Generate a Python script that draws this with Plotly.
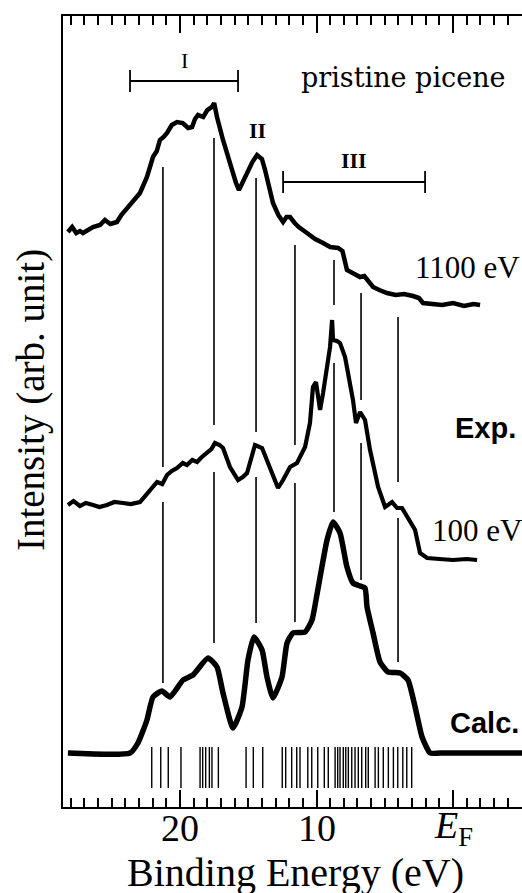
import plotly.graph_objects as go

# ---------------- data (binding energy in eV, intensity in arb. units) ----------------
e_1100 = [28.21, 27.9, 27.6, 27.33, 27.11, 26.7, 26.37, 25.86, 25.5, 25.1, 24.62, 24.3, 23.88,
          23.4, 22.93, 22.42, 21.98, 21.7, 21.47, 21.2, 20.95, 20.6, 20.22, 19.8, 19.4, 19.12,
          18.9, 18.68, 18.3, 18.0, 17.66, 17.5, 17.29, 16.85, 16.5, 16.19, 15.9, 15.68, 15.4,
          15.09, 14.7, 14.36, 14.0, 13.77, 13.5, 13.19, 12.8, 12.45, 12.2, 11.94, 11.6, 11.3,
          10.70, 10.1, 9.52, 9.0, 8.42, 8.1, 7.77, 7.3, 6.81, 6.5, 5.86, 5.4, 4.84, 4.2, 3.6,
          2.93, 2.5, 2.20, 1.5, 0.8, 0.0, -0.8, -1.5, -1.98]
i_1100 = [575, 580, 574, 576, 574, 578, 580, 582, 587, 583, 585, 592, 599,
          606, 614, 630, 650, 656, 667, 670, 674, 682, 685, 684, 679, 680,
          688, 692, 690, 697, 700, 704, 690, 667, 650, 637, 624, 617, 625,
          634, 645, 652, 648, 637, 620, 604, 592, 585, 590, 590, 584, 580,
          574, 568, 564, 560, 559, 556, 537, 533, 530, 531, 520, 517, 514, 512, 513,
          511, 509, 504, 503, 502, 504, 501, 503, 502]

e_100 = [28.21, 27.8, 27.33, 26.9, 26.37, 25.9, 25.35, 24.8, 24.18, 23.6, 22.93, 22.34,
         21.68, 21.3, 20.95, 20.6, 20.22, 19.8, 19.49, 19.1, 18.75, 18.4, 18.02, 17.7, 17.44,
         17.1, 16.85, 16.34, 15.75, 15.4, 15.09, 14.8, 14.51, 13.99, 13.41, 12.82, 12.45,
         12.09, 11.94, 11.43, 10.84, 10.48, 10.26, 10.04, 9.74, 9.52, 9.23, 9.01, 8.86, 8.79,
         8.5, 8.28, 7.91, 7.55, 7.33, 7.11, 6.81, 6.45, 6.08, 5.49, 4.98, 4.47, 4.10, 3.74,
         3.30, 2.78, 2.42, 1.90, 1.0, 0.0, -1.0, -1.76]
i_100 = [302, 306, 301, 304, 302, 300, 302, 305, 304, 303, 305, 314,
         325, 323, 332, 336, 339, 344, 342, 347, 345, 350, 355, 358, 364,
         362, 359, 340, 327, 330, 334, 350, 362, 359, 339, 319, 327,
         337, 340, 344, 360, 384, 420, 425, 397, 414, 440, 460, 487, 467,
         466, 464, 450, 424, 407, 384, 395, 387, 357, 320, 300, 305, 299, 299,
         289, 277, 254, 249, 248, 247, 248, 247]

e_calc = [28.21, 23.66, 23.08, 22.42, 21.98, 21.32, 20.73, 19.78, 19.05, 17.95, 17.29,
          16.85, 16.12, 15.46, 15.02, 14.58, 13.99, 13.63, 13.19, 12.53, 12.16, 11.72,
          10.84, 10.33, 10.0, 9.23, 8.79, 8.28, 7.77, 7.33, 6.81, 6.45, 6.30, 5.86, 5.35,
          4.76, 3.88, 3.30, 2.78, 2.27, 1.68, 0.95, -5.05]
i_calc = [54, 54, 64, 87, 110, 116, 110, 127, 132, 149, 140,
          114, 79, 100, 147, 170, 157, 130, 109, 130, 164, 174,
          175, 187, 210, 267, 285, 274, 240, 224, 221, 219, 200, 174, 145,
          135, 134, 127, 100, 70, 54, 54, 54]

# calculated eigenvalues (stick spectrum)
e_sticks = [22.07, 21.41, 20.86, 19.93, 18.53, 18.34, 18.12, 17.85, 17.66, 17.19, 15.16,
            14.63, 13.94, 12.51, 12.26, 11.82, 11.45, 11.21, 10.64, 10.35, 9.91, 9.43, 9.14,
            8.64, 8.45, 8.28, 8.04, 7.86, 7.67, 7.42, 7.18, 6.94, 6.69, 6.40, 6.21, 5.71,
            5.47, 5.11, 4.74, 4.37, 4.05, 3.68, 3.39, 3.03]
stick_lo, stick_hi = 19, 60

# guide lines connecting peaks: energy and (low, high) intensity segments
guide_e = [21.25, 17.51, 14.43, 11.58, 8.72, 6.74, 4.03]
guide_segs = [[(124, 305), (340, 640)],
              [(164, 335), (382, 669)],
              [(184, 330), (375, 629)],
              [(185, 324), (362, 562)],
              [(295, 444), (502, 547)],
              [(227, 364), (407, 514)],
              [(145, 289), (325, 490)]]

# region brackets: label, start, end, level
brackets = [("I", 23.66, 15.75, 726), ("III", 12.45, 2.05, 625)]
bracket_tick = 11

tick_vals = [20, 10, 0]
tick_text = ["20", "10", "<i>E</i><sub>F</sub>"]

# ---------------- figure ----------------
fig = go.Figure()
BLACK = "black"

# guide lines
gx, gy = [], []
for e, segs in zip(guide_e, guide_segs):
    for lo, hi in segs:
        gx += [e, e, None]
        gy += [lo, hi, None]
fig.add_trace(go.Scatter(x=gx, y=gy, mode="lines", line=dict(color=BLACK, width=1.6),
                         hoverinfo="skip"))

# sticks
sx, sy = [], []
for e in e_sticks:
    sx += [e, e, None]
    sy += [stick_lo, stick_hi, None]
fig.add_trace(go.Scatter(x=sx, y=sy, mode="lines", line=dict(color=BLACK, width=1.4),
                         hoverinfo="skip"))

# spectra
fig.add_trace(go.Scatter(x=e_1100, y=i_1100, mode="lines", line=dict(color=BLACK, width=4.5)))
fig.add_trace(go.Scatter(x=e_100, y=i_100, mode="lines", line=dict(color=BLACK, width=4.2)))
fig.add_trace(go.Scatter(x=e_calc, y=i_calc, mode="lines",
                         line=dict(color=BLACK, width=5.5, shape="spline", smoothing=0.5)))

# brackets
for lab, e0, e1, lev in brackets:
    fig.add_trace(go.Scatter(x=[e0, e1], y=[lev, lev], mode="lines",
                             line=dict(color=BLACK, width=1.8), hoverinfo="skip"))
    for e in (e0, e1):
        fig.add_trace(go.Scatter(x=[e, e], y=[lev - bracket_tick, lev + bracket_tick],
                                 mode="lines", line=dict(color=BLACK, width=1.8),
                                 hoverinfo="skip"))

SERIF = "Liberation Serif, Times New Roman, serif"
SANS = "Liberation Sans, Arial, sans-serif"
ann = []
ann.append(dict(x=(brackets[0][1] + brackets[0][2]) / 2, y=747, text="I",
                font=dict(family=SERIF, size=22, color=BLACK)))
ann.append(dict(x=14.36, y=677, text="<b>II</b>", font=dict(family=SERIF, size=22, color=BLACK)))
ann.append(dict(x=(brackets[1][1] + brackets[1][2]) / 2, y=647, text="<b>III</b>",
                font=dict(family=SERIF, size=22, color=BLACK)))
ann.append(dict(x=3.66, y=730, text="pristine picene",
                font=dict(family="DejaVu Serif, serif", size=27, color=BLACK)))
ann.append(dict(x=2.93, y=540, text="1100 eV", xanchor="left",
                font=dict(family=SERIF, size=31, color=BLACK)))
ann.append(dict(x=1.68, y=277, text="100 eV", xanchor="left",
                font=dict(family=SERIF, size=31, color=BLACK)))
ann.append(dict(x=0.0, y=379, text="<b>Exp.</b>", xanchor="left",
                font=dict(family=SANS, size=29, color=BLACK)))
ann.append(dict(x=0.37, y=84, text="<b>Calc.</b>", xanchor="left",
                font=dict(family=SANS, size=29, color=BLACK)))
# tick labels
for v, t in zip(tick_vals, tick_text):
    ann.append(dict(x=v, xref="x", y=0, yref="paper", yshift=-21, text=t,
                    font=dict(family=SERIF, size=38, color=BLACK)))
# axis titles
ann.append(dict(x=11.57, xref="x", y=0, yref="paper", yshift=-65,
                text="Binding Energy (eV)", font=dict(family=SERIF, size=40, color=BLACK)))
ann.append(dict(x=0, xref="paper", xshift=-32, y=0.5145, yref="paper", textangle=-90,
                text="Intensity (arb. unit)", font=dict(family=SERIF, size=39, color=BLACK)))
for a in ann:
    a.setdefault("xref", "x")
    a.setdefault("yref", "y")
    a.setdefault("showarrow", False)
    a.setdefault("xanchor", "center")
    a.setdefault("yanchor", "middle")
fig.update_layout(annotations=ann)

fig.update_layout(
    width=522, height=893,
    margin=dict(l=63, r=0, t=16, b=86),
    paper_bgcolor="white", plot_bgcolor="white",
    showlegend=False,
    xaxis=dict(range=[28.57, -5.05], showgrid=False, zeroline=False,
               showline=True, linecolor=BLACK, linewidth=2, mirror="ticks",
               ticks="inside", ticklen=17, tickwidth=2, tickcolor=BLACK,
               tickmode="array", tickvals=tick_vals, showticklabels=False,
               minor=dict(tickmode="linear", tick0=0, dtick=1, ticks="inside",
                          ticklen=9, tickwidth=1.5, tickcolor=BLACK, showgrid=False)),
    yaxis=dict(range=[0, 791], showgrid=False, zeroline=False, showline=True,
               linecolor=BLACK, linewidth=2, ticks="", showticklabels=False),
)

fig.write_html("out.html", config={"displayModeBar": False},
               post_script="document.body.style.margin='0';document.body.style.padding='0';"
                           "document.documentElement.style.overflow='hidden';")
